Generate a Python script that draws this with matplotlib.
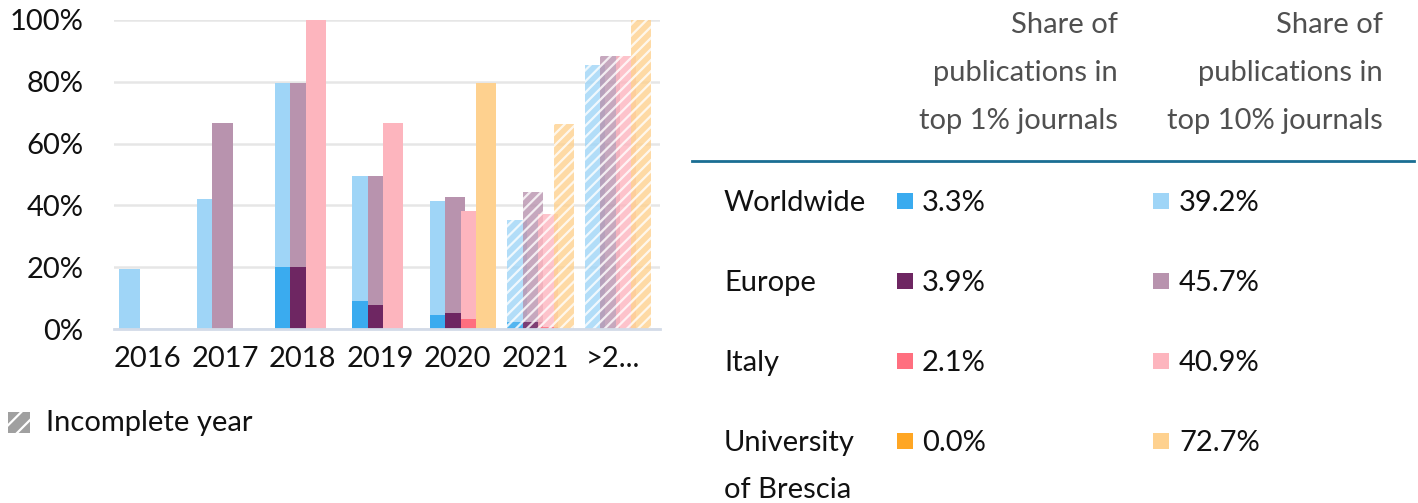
import numpy as np
from matplotlib import pyplot as plt
from matplotlib.patches import Rectangle

W, H = 1418, 503

years = ["2016", "2017", "2018", "2019", "2020", "2021", ">2..."]
incomplete = [False, False, False, False, False, True, True]
regions = ["Worldwide", "Europe", "Italy", "University\nof Brescia"]

# share in top 10% journals, per year (percent)
top10_world = [19.5, 42.2, 79.5, 49.5, 41.4, 35.3, 85.5]
top10_europe = [0, 66.7, 79.5, 49.5, 42.7, 44.3, 88.5]
top10_italy = [0, 0, 100, 66.7, 38.2, 37.2, 88.5]
top10_uni = [0, 0, 0, 0, 79.5, 66.5, 100]

# share in top 1% journals, per year (percent)
top1_world = [0, 0, 20, 9.0, 4.5, 2.3, 0]
top1_europe = [0, 0, 20, 7.8, 5.2, 2.3, 0]
top1_italy = [0, 0, 0, 0, 3.2, 0.5, 0]
top1_uni = [0, 0, 0, 0, 0, 0, 0]

# totals shown in the table
total_top1 = ["3.3%", "3.9%", "2.1%", "0.0%"]
total_top10 = ["39.2%", "45.7%", "40.9%", "72.7%"]

dark_colors = ["#3aabef", "#6e2662", "#ff6f7f", "#ffa623"]
light_colors = ["#9fd5f7", "#b893ae", "#fdb5be", "#fed18f"]

plt.rcParams["font.family"] = ["Lato", "DejaVu Sans"]
plt.rcParams["hatch.linewidth"] = 1.6
FS = 21

fig = plt.figure(figsize=(W / 100, H / 100), dpi=100)


def fx(x):
    return x / W


def fy(y):
    return 1 - y / H


ax = fig.add_axes([fx(114), fy(329), fx(660) - fx(114), fy(20) - fy(329)])

top10 = [top10_world, top10_europe, top10_italy, top10_uni]
top1 = [top1_world, top1_europe, top1_italy, top1_uni]
offsets = [-0.3, -0.1, 0.1, 0.3]
width = 0.26
x = np.arange(len(years))

for r in range(4):
    for i in range(len(years)):
        if incomplete[i]:
            kw = dict(hatch="///", edgecolor="white", linewidth=0, alpha=0.8)
        else:
            kw = dict(linewidth=0)
        if top10[r][i] > 0:
            ax.bar(x[i] + offsets[r], top10[r][i], width, color=light_colors[r],
                   zorder=3 + r * 2, **kw)
        if top1[r][i] > 0:
            ax.bar(x[i] + offsets[r], top1[r][i], width, color=dark_colors[r],
                   zorder=4 + r * 2, **kw)

ax.set_xlim(-0.5, 6.54)
ax.set_ylim(0, 100)
ax.set_yticks([0, 20, 40, 60, 80, 100])
ax.set_yticklabels(["0%", "20%", "40%", "60%", "80%", "100%"])
ax.set_xticks(x - 0.07)
ax.set_xticklabels(years)
ax.tick_params(axis="both", length=0, labelsize=FS, colors="#111111")
ax.tick_params(axis="x", pad=12)
ax.tick_params(axis="y", pad=22)
ax.grid(axis="y", color="#e6e6e6", linewidth=1.8, zorder=0)
for s in ["top", "right", "left"]:
    ax.spines[s].set_visible(False)
ax.spines["bottom"].set_color("#d3dbe8")
ax.spines["bottom"].set_linewidth(2)
ax.spines["bottom"].set_zorder(20)
ax.set_axisbelow(True)

# incomplete year legend
fig.patches.append(Rectangle((fx(8), fy(433)), fx(22), fy(412) - fy(433),
                             transform=fig.transFigure, facecolor="#a0a0a0",
                             hatch="//", edgecolor="white", linewidth=0))
fig.text(fx(46), fy(431), "Incomplete year", fontsize=FS, va="baseline",
         color="#111111")

# table header
head1 = ["Share of", "publications in", "top 1% journals"]
head10 = ["Share of", "publications in", "top 10% journals"]
for k in range(3):
    fig.text(fx(1118), fy(33 + 48 * k), head1[k], fontsize=FS, ha="right",
             va="baseline", color="#505050")
    fig.text(fx(1383), fy(33 + 48 * k), head10[k], fontsize=FS, ha="right",
             va="baseline", color="#505050")
fig.add_artist(plt.Line2D([fx(692), fx(1414)], [fy(161), fy(161)],
                          color="#1a6e93", linewidth=2,
                          transform=fig.transFigure))

# table rows
for r in range(4):
    base = 211 + 80 * r
    for j, line in enumerate(regions[r].split("\n")):
        fig.text(fx(724), fy(base + 47 * j), line, fontsize=FS, va="baseline",
                 color="#111111")
    sq_mid = base - 10
    fig.patches.append(Rectangle((fx(897), fy(sq_mid + 8)), fx(16), fy(sq_mid - 8) - fy(sq_mid + 8),
                                 transform=fig.transFigure, facecolor=dark_colors[r],
                                 linewidth=0))
    fig.text(fx(922), fy(base), total_top1[r], fontsize=FS, va="baseline", color="#111111")
    fig.patches.append(Rectangle((fx(1153), fy(sq_mid + 8)), fx(16), fy(sq_mid - 8) - fy(sq_mid + 8),
                                 transform=fig.transFigure, facecolor=light_colors[r],
                                 linewidth=0))
    fig.text(fx(1179), fy(base), total_top10[r], fontsize=FS, va="baseline", color="#111111")

plt.savefig("out.png", dpi=100)
